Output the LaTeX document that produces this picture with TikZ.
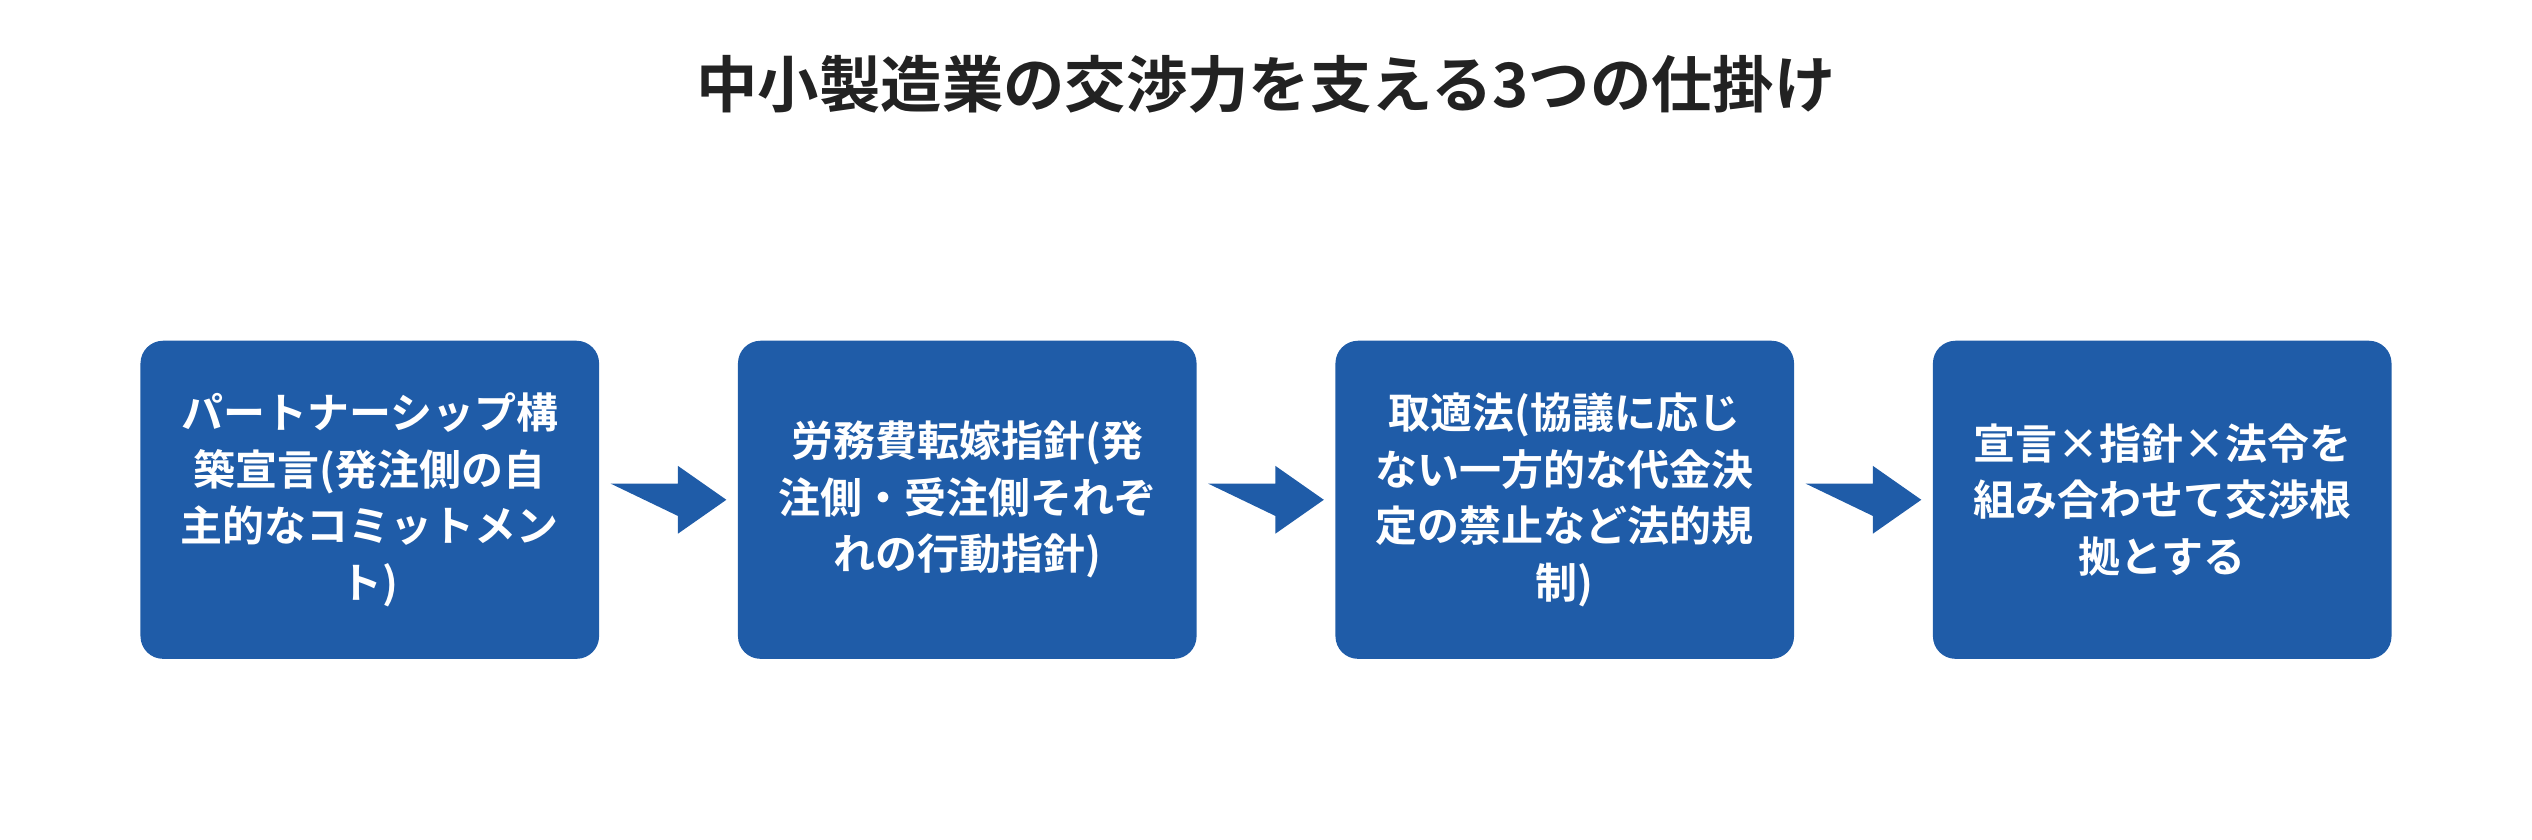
\documentclass[tikz,border=0pt]{standalone}
\usepackage{fontspec}
\setmainfont{Noto Sans CJK JP}[BoldFont={Noto Sans CJK JP Bold}]
\definecolor{boxblue}{HTML}{1F5CA8}
\definecolor{titlec}{HTML}{222222}
\begin{document}
\begin{tikzpicture}[x=1pt,y=-1pt,
  box/.style={fill=boxblue,rounded corners=14pt,minimum width=284pt,minimum height=197pt,inner sep=0pt,
    text=white,font=\fontsize{26}{35}\selectfont\bfseries,align=center},
  arr/.style={fill=boxblue,draw=none}]
\useasboundingbox (0,0) rectangle (1568,520);
\node[font=\fontsize{38}{44}\selectfont\bfseries,text=titlec] (title) at (784,52) {中小製造業の交渉力を支える3つの仕掛け};
\node[box] (b1) at (229,309.5) {パートナーシップ構\\築宣言(発注側の自\\主的なコミットメン\\ト)};
\node[box] (b2) at (599,309.5) {労務費転嫁指針(発\\注側・受注側それぞ\\れの行動指針)};
\node[box] (b3) at (969,309.5) {取適法(協議に応じ\\ない一方的な代金決\\定の禁止など法的規\\制)};
\node[box] (b4) at (1339,309.5) {宣言×指針×法令を\\組み合わせて交渉根\\拠とする};
\foreach \a/\b in {b1/b2,b2/b3,b3/b4}{
  \path (\a.east) ++(7,0) coordinate (s) (\b.west) ++(-7,0) coordinate (e);
  \fill[arr] (s) ++(0,-10) -- ([xshift=-30pt,yshift=-10pt]e) -- ([xshift=-30pt,yshift=-21pt]e) -- (e) -- ([xshift=-30pt,yshift=21pt]e) -- ([xshift=-30pt,yshift=10pt]e) -- ([yshift=10pt]s) -- cycle;
}
\end{tikzpicture}
\end{document}
